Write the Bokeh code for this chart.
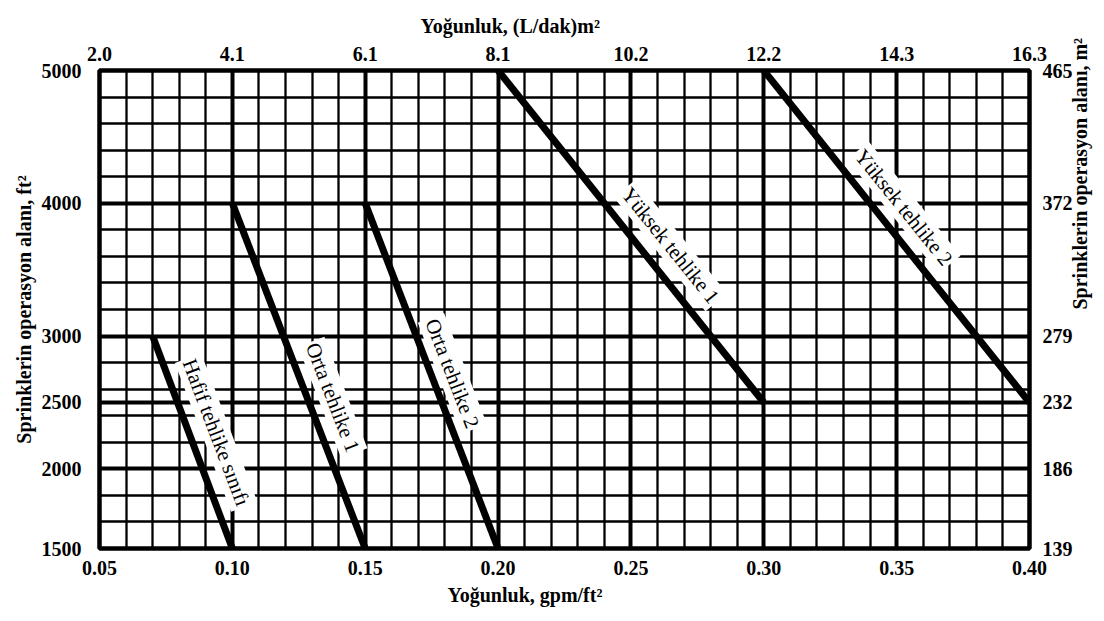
import math
from bokeh.plotting import figure
from bokeh.models import (FixedTicker, CustomJSTickFormatter, LinearAxis, Range1d,
                          ColumnDataSource, Title)
from bokeh.core.properties import value
from bokeh.embed import file_html
from bokeh.resources import INLINE

# ---------------- data ----------------
density_ticks = [0.05, 0.10, 0.15, 0.20, 0.25, 0.30, 0.35, 0.40]            # gpm/ft2
density_metric_labels = ["2.0", "4.1", "6.1", "8.1", "10.2", "12.2", "14.3", "16.3"]  # (L/dak)m2
area_tick_pos = [1400, 2000, 2500, 3000, 4000, 5000]     # positions on the uniform 200 ft2 grid
area_ft2_labels = ["1500", "2000", "2500", "3000", "4000", "5000"]
area_m2_labels = ["139", "186", "232", "279", "372", "465"]

hazard_names = ["Hafif tehlike sınıfı", "Orta tehlike 1", "Orta tehlike 2",
                "Yüksek tehlike 1", "Yüksek tehlike 2"]
density_start = [0.07, 0.10, 0.15, 0.20, 0.30]
area_start = [3000, 4000, 4000, 5000, 5000]
density_end = [0.10, 0.15, 0.20, 0.30, 0.40]
area_end = [1400, 1400, 1400, 2500, 2500]   # lower ends sit on the chart floor (labelled 1500)

# ---------------- styling ----------------
FONT = "Liberation Serif"
label_x = [0.0939, 0.1378, 0.1828, 0.2649, 0.3527]
label_y = [2274, 2537, 2718, 3682, 3968]
label_angle = [-69.3, -68.9, -68.9, -51.2, -51.2]

p = figure(width=1104, height=621, output_backend="svg", toolbar_location=None,
           x_range=Range1d(0.05, 0.40), y_range=Range1d(1400, 5000),
           min_border_left=99, min_border_right=72, min_border_top=70, min_border_bottom=73,
           background_fill_color="white", border_fill_color="white")
p.xaxis.visible = False
p.yaxis.visible = False

minor_x = [round(0.05 + 0.01 * i, 2) for i in range(36)]
minor_y = list(range(1400, 5001, 200)) + [2500]
x_ticker = FixedTicker(ticks=density_ticks, minor_ticks=minor_x)
y_ticker = FixedTicker(ticks=area_tick_pos, minor_ticks=minor_y)

def style_axis(ax):
    ax.major_tick_line_color = None
    ax.minor_tick_line_color = None
    ax.axis_line_color = None
    ax.major_label_text_font = FONT
    ax.major_label_text_font_size = "20px"
    ax.major_label_text_font_style = "bold"
    ax.major_label_text_color = "black"
    ax.axis_label_text_font = FONT
    ax.axis_label_text_font_size = "20px"
    ax.axis_label_text_font_style = "bold"
    ax.axis_label_text_color = "black"

bottom = LinearAxis(ticker=x_ticker,
                    formatter=CustomJSTickFormatter(code="return tick.toFixed(2);"))
top = LinearAxis(ticker=x_ticker,
                 formatter=CustomJSTickFormatter(args=dict(labels=density_metric_labels),
                                                 code="return labels[Math.round((tick-0.05)/0.05)];"))
left = LinearAxis(ticker=y_ticker, axis_label="Sprinklerin operasyon alanı, ft²",
                  formatter=CustomJSTickFormatter(args=dict(pos=area_tick_pos, labels=area_ft2_labels),
                                                  code="return labels[pos.indexOf(tick)];"))
right = LinearAxis(ticker=y_ticker, axis_label="Sprinklerin operasyon alanı, m²",
                   formatter=CustomJSTickFormatter(args=dict(pos=area_tick_pos, labels=area_m2_labels),
                                                   code="return labels[pos.indexOf(tick)];"))
for ax in (bottom, top, left, right):
    style_axis(ax)
bottom.major_label_standoff = 6
top.major_label_standoff = 4
left.major_label_standoff = 12
left.axis_label_standoff = 4
right.major_label_standoff = 7
right.axis_label_standoff = 4
right.axis_label_orientation = math.pi / 2

p.add_layout(bottom, "below")
p.add_layout(top, "above")
p.add_layout(left, "left")
p.add_layout(right, "right")

def make_title(text, offset, standoff):
    return Title(text=text, align="left", offset=offset, standoff=standoff,
                 text_font=FONT, text_font_size="20px", text_font_style="bold",
                 text_color="black")

p.add_layout(make_title("Yoğunluk, (L/dak)m²", 321, 13), "above")
p.add_layout(make_title("Yoğunluk, gpm/ft²", 348, 8), "below")

p.xgrid.ticker = x_ticker
p.ygrid.ticker = y_ticker
for g in (p.xgrid, p.ygrid):
    g.grid_line_color = "black"
    g.grid_line_width = 4
    g.minor_grid_line_color = "black"
    g.minor_grid_line_width = 2.3

p.outline_line_color = "black"
p.outline_line_width = 4.5

src = ColumnDataSource(dict(x0=density_start, y0=area_start, x1=density_end, y1=area_end))
p.segment("x0", "y0", "x1", "y1", source=src, line_color="black", line_width=7,
          line_cap="butt")

lsrc = ColumnDataSource(dict(x=label_x, y=label_y, t=hazard_names,
                             a=[math.radians(v) for v in label_angle]))
p.text("x", "y", text="t", angle="a", source=lsrc, text_align="center",
       text_baseline="middle", text_font=value(FONT), text_font_size="21px",
       text_color="black", background_fill_color="white", padding=2)

open("out.html", "w").write(file_html(p, INLINE))
